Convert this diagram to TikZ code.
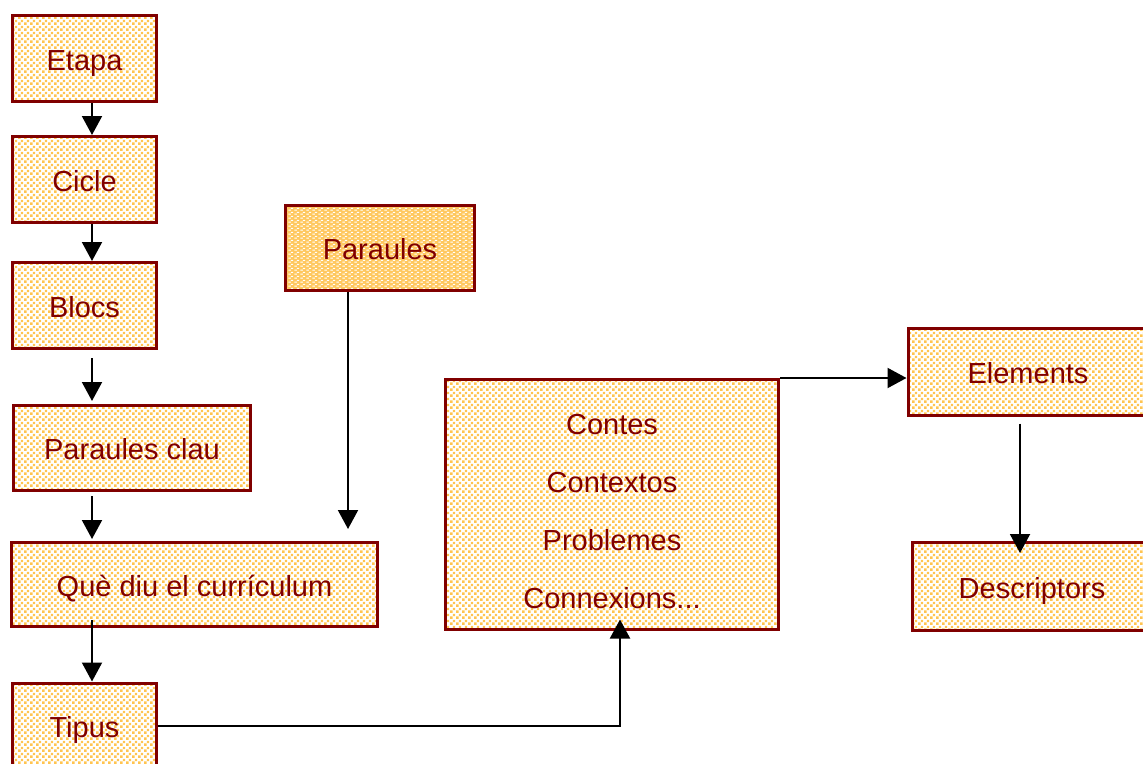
\documentclass[tikz,border=0pt]{standalone}
\usepackage{fontspec}
\setmainfont{Liberation Sans}
\usetikzlibrary{arrows.meta,patterns.meta,calc}
\definecolor{dred}{RGB}{128,0,0}
\definecolor{dotor}{RGB}{255,196,80}
\definecolor{parbg}{RGB}{255,200,95}
\tikzdeclarepattern{name=sqdots, type=uncolored,
  bounding box={(0pt,0pt) and (6pt,6pt)}, tile size={(6pt,6pt)},
  code={\fill (0.2pt,0.2pt) rectangle (3.0pt,3.0pt);
        \fill (3.2pt,3.2pt) rectangle (5.9pt,5.9pt);}}
\tikzdeclarepattern{name=whdash, type=uncolored,
  bounding box={(0pt,0pt) and (6pt,4pt)}, tile size={(6pt,4pt)},
  code={\fill (0.4pt,0.6pt) rectangle (3.4pt,1.8pt);
        \fill (3.3pt,2.6pt) rectangle (5.9pt,3.8pt);}}
\begin{document}
\begin{tikzpicture}[x=1pt,y=-1pt,
  box/.style={draw=dred, line width=3pt, pattern=sqdots, pattern color=dotor,
    text=dred, font=\fontsize{29}{34}\selectfont, inner sep=0pt, anchor=center,
    text height=23pt, text depth=0pt},
  densebox/.style={draw=dred, line width=3pt, preaction={fill=parbg}, pattern=whdash,
    pattern color=white, text=dred, font=\fontsize{29}{34}\selectfont, inner sep=0pt,
    text height=23pt, text depth=0pt},
  arr/.style={line width=2pt, -{Triangle[length=19pt,width=20pt]}}]
\useasboundingbox (0,0) rectangle (1143,763);
\node[box, minimum width=144pt, minimum height=86pt] (etapa) at (84.5,58.5) {Etapa};
\node[box, minimum width=144pt, minimum height=86pt] (cicle) at (84.5,179.5) {Cicle};
\node[box, minimum width=144pt, minimum height=86pt] (blocs) at (84.5,305.5) {Blocs};
\node[box, minimum width=237pt, minimum height=85pt] (pclau) at (132,448) {Paraules clau};
\node[box, minimum width=366pt, minimum height=84pt] (que) at (194.5,584.5) {Què diu el currículum};
\node[box, minimum width=144pt, minimum height=86pt] (tipus) at (84.5,726) {Tipus};
\node[densebox, minimum width=189pt, minimum height=85pt] (paraules) at (380,248) {Paraules};
\node[box, minimum width=333pt, minimum height=250pt, text height=, text depth=,
  font=\fontsize{29}{58}\selectfont] (contes) at (612,504.5)
  {\raisebox{-5pt}[\height][\depth]{\begin{tabular}{@{}c@{}}Contes\\Contextos\\Problemes\\Connexions...\end{tabular}}};
\node[box, minimum width=240pt, minimum height=87pt] (elements) at (1028,372) {Elements};
\node[box, minimum width=240pt, minimum height=88pt] (desc) at (1032,586.5) {Descriptors};
% connectors
\draw[arr] ($(etapa.south)+(7.5,0)$) -- ($(cicle.north)+(7.5,0)$);
\draw[arr] ($(cicle.south)+(7.5,0)$) -- ($(blocs.north)+(7.5,0)$);
\draw[arr] ($(blocs.south)+(7.5,8)$) -- ($(blocs.south |- pclau.north)+(7.5,-3)$);
\draw[arr] ($(blocs.south |- pclau.south)+(7.5,4)$) -- ($(blocs.south |- que.north)+(7.5,-2)$);
\draw[arr] ($(blocs.south |- que.south)+(7.5,-8)$) -- ($(tipus.north)+(7.5,0)$);
\draw[arr] ($(paraules.south)+(-32,0)$) -- ($(paraules.south |- que.north)+(-32,-12)$);
\draw[arr] (tipus.east) -| ($(contes.south)+(8,-11.5)$);
\draw[arr] (contes.north east) -- (contes.north east -| elements.west);
\draw[arr] ($(elements.south)+(-8,6.5)$) -- ($(elements.south |- desc.north)+(-8,12)$);
\end{tikzpicture}
\end{document}
